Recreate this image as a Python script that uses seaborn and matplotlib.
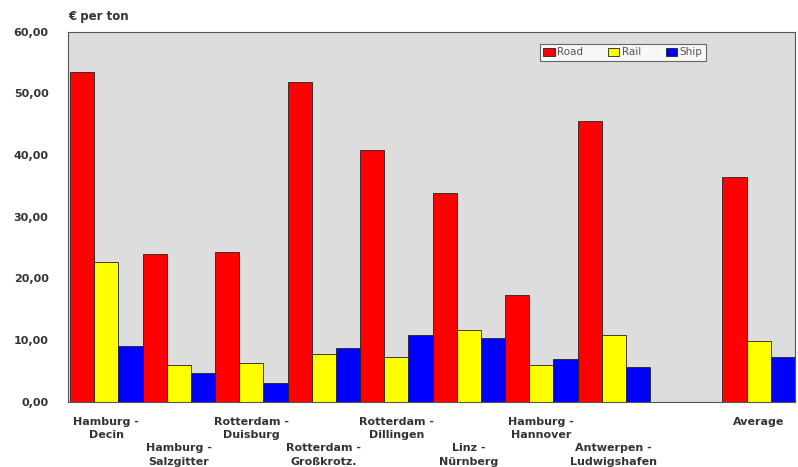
import matplotlib
matplotlib.use("Agg")
import matplotlib.pyplot as plt
import seaborn as sns
import pandas as pd
import numpy as np

# Transport cost per ton by route and mode
routes = [
    "Hamburg -\nDecin",
    "Hamburg -\nSalzgitter",
    "Rotterdam -\nDuisburg",
    "Rotterdam -\nGroßkrotz.",
    "Rotterdam -\nDillingen",
    "Linz -\nNürnberg",
    "Hamburg -\nHannover",
    "Antwerpen -\nLudwigshafen",
    "",
    "Average",
]
modes = ["Road", "Rail", "Ship"]
road = [53.5, 23.9, 24.2, 51.9, 40.8, 33.8, 17.3, 45.5, np.nan, 36.5]
rail = [22.7, 5.9, 6.3, 7.8, 7.3, 11.6, 6.0, 10.9, np.nan, 9.8]
ship = [9.0, 4.6, 3.0, 8.7, 10.9, 10.4, 6.9, 5.7, np.nan, 7.3]
y_ticks = [0, 10, 20, 30, 40, 50, 60]
colors = ["#ff0000", "#ffff00", "#0000ff"]

rows = []
for i, r in enumerate(routes):
    for m, vals in zip(modes, (road, rail, ship)):
        rows.append({"route": i, "mode": m, "cost": vals[i]})
df = pd.DataFrame(rows)

sns.set_style("white")
fig = plt.figure(figsize=(7.98, 4.67), dpi=100)
ax = fig.add_axes([0.0852, 0.1398, 0.9110, 0.7922])
ax.set_facecolor("#dddddd")

sns.barplot(data=df, x="route", y="cost", hue="mode", hue_order=modes,
            order=list(range(len(routes))), palette=colors, width=1.0,
            edgecolor="#222222", linewidth=0.6, saturation=1, ax=ax,
            errorbar=None)

ax.set_xlim(-0.53, len(routes) - 0.5)
ax.set_ylim(0, 60)
ax.set_yticks(y_ticks)
ax.set_yticklabels([f"{v:.2f}".replace(".", ",") for v in y_ticks],
                   fontsize=8, fontweight="bold", color="#333333")
ax.tick_params(axis="y", length=0, pad=14)
ax.set_xticks([])
ax.set_xlabel("")
ax.set_ylabel("")
for s in ax.spines.values():
    s.set_color("#555555")
    s.set_linewidth(0.8)

# Staggered route labels below the axis; the average sits on the upper row
for i, lab in enumerate(routes):
    if not lab:
        continue
    lower = (i % 2 == 1) and lab != "Average"
    y = -0.112 if lower else -0.04
    ax.text(i, y, lab, transform=ax.get_xaxis_transform(), ha="center",
            va="top", fontsize=8, fontweight="bold", color="#333333",
            linespacing=1.45)

fig.text(0.0852, 0.965, "€ per ton", fontsize=8.5, fontweight="bold",
         color="#333333", ha="left", va="center")

leg = ax.legend(loc="upper left", bbox_to_anchor=(0.649, 0.968), ncol=3,
                fontsize=7.5, frameon=True, fancybox=False, handlelength=1.1,
                handleheight=0.8, handletextpad=0.2, columnspacing=2.4,
                borderpad=0.35, borderaxespad=0)
leg.get_frame().set_edgecolor("#444444")
leg.get_frame().set_linewidth(0.8)
for t in leg.get_texts():
    t.set_color("#555555")

fig.savefig("out.png", dpi=100)
